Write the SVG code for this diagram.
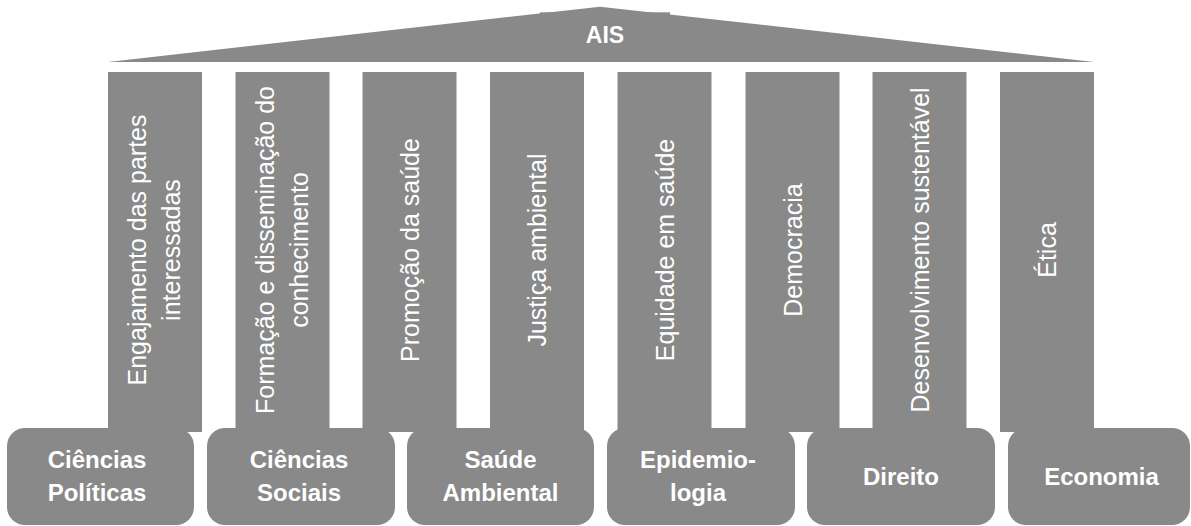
<svg xmlns="http://www.w3.org/2000/svg" width="1191" height="526" viewBox="0 0 1191 526">
<style>
.shape{fill:#898989;}
.col{fill:#898989;}
.ct{font-family:"Liberation Sans",Arial,sans-serif;font-size:25px;fill:#ffffff;text-anchor:middle;}
.bt{font-family:"Liberation Sans",Arial,sans-serif;font-size:24px;font-weight:bold;fill:#ffffff;text-anchor:middle;}
.rt{font-family:"Liberation Sans",Arial,sans-serif;font-size:23px;font-weight:bold;fill:#ffffff;text-anchor:middle;}
</style>
<rect width="1191" height="526" fill="#ffffff"/>
<g id="connectors"></g>
<g id="roof">
<polygon class="shape" points="108,62 600,6.7 1094,62"/>
<rect class="shape" x="540" y="12.3" width="130" height="49.7"/>
<text class="rt" x="605" y="43">AIS</text>
</g>
<g id="col1">
<rect class="col" x="108" y="72" width="94" height="360"/>
<text class="ct" transform="translate(155,250) rotate(-90)"><tspan x="0" y="-9">Engajamento das partes</tspan><tspan x="0" y="25">interessadas</tspan></text>
</g>
<g id="col2">
<rect class="col" x="235.5" y="72" width="94" height="360"/>
<text class="ct" transform="translate(282.5,250) rotate(-90)"><tspan x="0" y="-9">Formação e disseminação do</tspan><tspan x="0" y="25">conhecimento</tspan></text>
</g>
<g id="col3">
<rect class="col" x="362.5" y="72" width="94" height="360"/>
<text class="ct" transform="translate(409.5,250) rotate(-90)" x="0" y="9">Promoção da saúde</text>
</g>
<g id="col4">
<rect class="col" x="490" y="72" width="94" height="360"/>
<text class="ct" transform="translate(537,250) rotate(-90)" x="0" y="9">Justiça ambiental</text>
</g>
<g id="col5">
<rect class="col" x="617.5" y="72" width="94" height="360"/>
<text class="ct" transform="translate(664.5,250) rotate(-90)" x="0" y="9">Equidade em saúde</text>
</g>
<g id="col6">
<rect class="col" x="745.5" y="72" width="94" height="360"/>
<text class="ct" transform="translate(792.5,250) rotate(-90)" x="0" y="9">Democracia</text>
</g>
<g id="col7">
<rect class="col" x="872.5" y="72" width="94" height="360"/>
<text class="ct" transform="translate(919.5,250) rotate(-90)" x="0" y="9">Desenvolvimento sustentável</text>
</g>
<g id="col8">
<rect class="col" x="1000" y="72" width="94" height="360"/>
<text class="ct" transform="translate(1047,250) rotate(-90)" x="0" y="9">Ética</text>
</g>
<g id="base1">
<rect class="shape" x="7" y="428" width="187" height="97" rx="18"/>
<text class="bt" x="97"><tspan x="97" y="468">Ciências</tspan><tspan x="97" y="501">Políticas</tspan></text>
</g>
<g id="base2">
<rect class="shape" x="207" y="428" width="188" height="97" rx="18"/>
<text class="bt"><tspan x="299" y="468">Ciências</tspan><tspan x="299" y="501">Sociais</tspan></text>
</g>
<g id="base3">
<rect class="shape" x="407" y="428" width="187" height="97" rx="18"/>
<text class="bt"><tspan x="500.5" y="468">Saúde</tspan><tspan x="500.5" y="501">Ambiental</tspan></text>
</g>
<g id="base4">
<rect class="shape" x="607" y="428" width="188" height="97" rx="18"/>
<text class="bt"><tspan x="698" y="468">Epidemio-</tspan><tspan x="698" y="501">logia</tspan></text>
</g>
<g id="base5">
<rect class="shape" x="807" y="428" width="188" height="97" rx="18"/>
<text class="bt" x="901" y="485">Direito</text>
</g>
<g id="base6">
<rect class="shape" x="1008" y="428" width="182" height="97" rx="18"/>
<text class="bt" x="1101.5" y="485">Economia</text>
</g>
</svg>
